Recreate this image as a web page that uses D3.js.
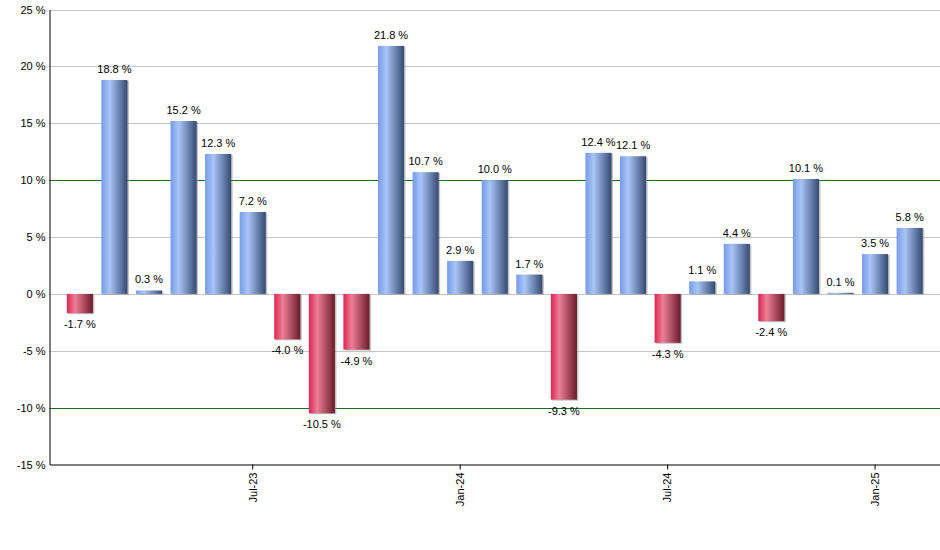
<!DOCTYPE html>
<html>
<head>
<meta charset="utf-8">
<script src="https://cdn.jsdelivr.net/npm/d3@7"></script>
<style>
  body { margin: 0; background: #fff; }
  svg text { font-family: "Liberation Sans", Arial, sans-serif; font-size: 11px; fill: #000; }
</style>
</head>
<body>
<div id="chart"></div>
<script>
(function () {
  // monthly returns, Feb-23 .. Feb-25
  var months = ['Feb-23', 'Mar-23', 'Apr-23', 'May-23', 'Jun-23', 'Jul-23', 'Aug-23', 'Sep-23', 'Oct-23',
    'Nov-23', 'Dec-23', 'Jan-24', 'Feb-24', 'Mar-24', 'Apr-24', 'May-24', 'Jun-24', 'Jul-24', 'Aug-24',
    'Sep-24', 'Oct-24', 'Nov-24', 'Dec-24', 'Jan-25', 'Feb-25'];
  var returns = [-1.7, 18.8, 0.3, 15.2, 12.3, 7.2, -4.0, -10.5, -4.9, 21.8, 10.7, 2.9, 10.0, 1.7, -9.3,
    12.4, 12.1, -4.3, 1.1, 4.4, -2.4, 10.1, 0.1, 3.5, 5.8];
  var xTickLabels = ['Jul-23', 'Jan-24', 'Jul-24', 'Jan-25'];
  var yTicks = [-15, -10, -5, 0, 5, 10, 15, 20, 25];
  var greenLines = [-10, 10];

  var width = 940, height = 550;
  var left = 49.5, right = 940, top = 9.5, bottom = 464.5;

  var data = months.map(function (m, i) { return { month: m, value: returns[i] }; });

  var svg = d3.select('#chart').append('svg')
    .attr('width', width)
    .attr('height', height);

  var x = d3.scaleBand()
    .domain(months)
    .range([left, right])
    .paddingInner(0.245)
    .paddingOuter(0.5);

  var y = d3.scaleLinear()
    .domain([-15, 25])
    .range([bottom, top]);

  // Gradients
  var defs = svg.append('defs');
  function gradient(id, stops) {
    var g = defs.append('linearGradient').attr('id', id)
      .attr('x1', '0%').attr('x2', '100%').attr('y1', '0%').attr('y2', '0%');
    stops.forEach(function (s) {
      g.append('stop').attr('offset', s[0]).attr('stop-color', s[1]);
    });
  }
  gradient('gradPos', [['0%', '#769be8'], ['32%', '#a9c5f6'], ['100%', '#344a72']]);
  gradient('gradNeg', [['0%', '#dc2550'], ['32%', '#ec7f97'], ['100%', '#6c1a2c']]);

  // Grid lines
  svg.append('g')
    .selectAll('line')
    .data(yTicks.filter(function (d) { return d !== -15; }))
    .join('line')
    .attr('x1', left)
    .attr('x2', right)
    .attr('y1', function (d) { return Math.round(y(d)) + 0.5; })
    .attr('y2', function (d) { return Math.round(y(d)) + 0.5; })
    .attr('stroke', function (d) { return greenLines.indexOf(d) >= 0 ? '#17701a' : '#c6c6c6'; })
    .attr('stroke-width', 1);

  // Bar shadows
  svg.append('g')
    .selectAll('rect')
    .data(data)
    .join('rect')
    .attr('x', function (d) { return x(d.month) + 1.5; })
    .attr('y', function (d) { return Math.min(y(d.value), y(0)) + 1; })
    .attr('width', x.bandwidth())
    .attr('height', function (d) { return Math.max(1, Math.abs(y(d.value) - y(0))); })
    .attr('fill', '#9a9a9a')
    .attr('opacity', 0.6);

  // Bars
  svg.append('g')
    .selectAll('rect')
    .data(data)
    .join('rect')
    .attr('x', function (d) { return x(d.month); })
    .attr('y', function (d) { return Math.min(y(d.value), y(0)); })
    .attr('width', x.bandwidth())
    .attr('height', function (d) { return Math.max(1, Math.abs(y(d.value) - y(0))); })
    .attr('fill', function (d) { return d.value >= 0 ? 'url(#gradPos)' : 'url(#gradNeg)'; });

  // Value labels
  svg.append('g')
    .selectAll('text')
    .data(data)
    .join('text')
    .attr('x', function (d) { return x(d.month) + x.bandwidth() / 2; })
    .attr('y', function (d) { return d.value >= 0 ? y(d.value) - 7 : y(d.value) + 15; })
    .attr('text-anchor', 'middle')
    .text(function (d) { return d.value.toFixed(1) + ' %'; });

  // Y axis
  var yAxis = svg.append('g')
    .attr('transform', 'translate(' + left + ',0)')
    .call(d3.axisLeft(y).tickValues(yTicks).tickSize(0).tickPadding(4)
      .tickFormat(function (d) { return d + ' %'; }));
  yAxis.select('.domain').attr('stroke', '#000');
  yAxis.selectAll('text').style('font-size', '11px').attr('fill', '#000');

  // X axis
  var xAxis = svg.append('g')
    .attr('transform', 'translate(0,' + bottom + ')')
    .call(d3.axisBottom(x).tickValues(xTickLabels).tickSize(5).tickSizeOuter(0));
  xAxis.select('.domain').attr('stroke', '#000');
  xAxis.selectAll('line').attr('stroke', '#000');
  xAxis.selectAll('text')
    .style('font-size', '11px')
    .attr('fill', '#000')
    .attr('text-anchor', 'end')
    .attr('transform', 'rotate(-90)')
    .attr('x', -8)
    .attr('y', 0)
    .attr('dy', '0.35em');
})();
</script>
</body>
</html>
